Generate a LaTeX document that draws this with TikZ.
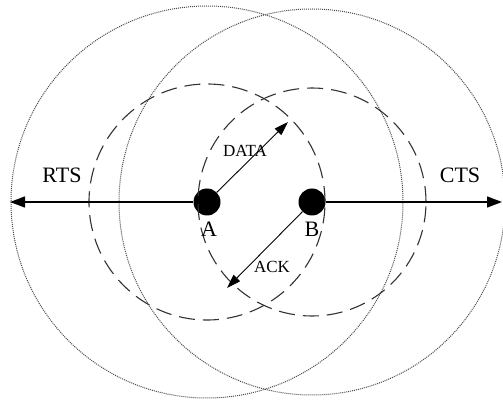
\documentclass[tikz,border=0pt]{standalone}
\usepackage{fontspec}
\setmainfont{Liberation Serif}
\usetikzlibrary{arrows.meta}
\begin{document}
\begin{tikzpicture}[x=1pt,y=-1pt,
  station/.style={circle,fill=black,minimum size=27pt,inner sep=0pt},
  bigrange/.style={draw=black!70,line width=1pt,dash pattern=on 1pt off 1pt},
  midrange/.style={draw=black!80,line width=1.1pt,dash pattern=on 16pt off 8pt},
  txarrow/.style={draw=black,line width=1.3pt,-{Triangle[length=15pt,width=11pt]}},
  msgarrow/.style={draw=black,line width=0.9pt,-{Triangle[length=14pt,width=9pt]}},
  biglabel/.style={font=\fontsize{22}{24}\selectfont},
  smalllabel/.style={font=\fontsize{17}{19}\selectfont}]
\useasboundingbox[fill=white] (0,0) rectangle (503,403);
\node[station] (A) at (207,202) {};
\node[station] (B) at (312,202) {};
% large dotted ranges
\draw[bigrange] (A.center) circle[radius=196pt];
\draw[bigrange] (B.center) circle[radius=193pt];
% dashed ranges
\draw[midrange] (A.center) circle[radius=118pt];
\draw[midrange] (B.center) circle[radius=114pt];
% end points
\coordinate (rtsEnd) at (10,202);
\coordinate (ctsEnd) at (502,202);
\coordinate (dataEnd) at (288,122);
\coordinate (ackEnd) at (227,288);
\draw[txarrow] (A.west) -- (rtsEnd);
\draw[txarrow] (B.east) -- (ctsEnd);
\draw[msgarrow] (A) -- (dataEnd);
\draw[msgarrow] (B) -- (ackEnd);
% labels
\node[biglabel] (rts) at (62,175) {RTS};
\node[biglabel] (cts) at (460,175) {CTS};
\node[biglabel] (la) at (209,229) {A};
\node[biglabel] (lb) at (312,229) {B};
\node[smalllabel] (data) at (245,151) {DATA};
\node[smalllabel] (ack) at (272,267) {ACK};
\end{tikzpicture}
\end{document}
